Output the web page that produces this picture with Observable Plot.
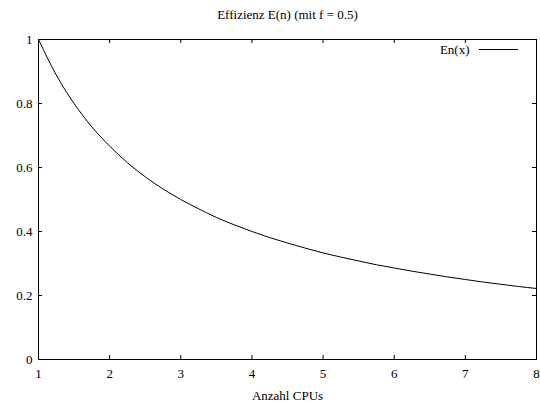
<!DOCTYPE html>
<html><head><meta charset="utf-8">
<script src="https://cdn.jsdelivr.net/npm/d3@7"></script>
<script src="https://cdn.jsdelivr.net/npm/@observablehq/plot@0.6"></script>
<style>body{margin:0;background:#fff} svg, svg text{font-family:"Liberation Serif","Times New Roman",serif !important}</style>
</head><body><div id="chart"></div>
<script>
const title = "Effizienz E(n) (mit f = 0.5)";
const xLabel = "Anzahl CPUs";
const legendLabel = "En(x)";
const xValues = [1,1.25,1.5,1.75,2,2.25,2.5,2.75,3,3.25,3.5,3.75,4,4.25,4.5,4.75,5,5.25,5.5,5.75,6,6.25,6.5,6.75,7,7.25,7.5,7.75,8];
const yValues = [1.000,0.889,0.800,0.727,0.667,0.615,0.571,0.533,0.500,0.471,0.444,0.421,0.400,0.381,0.364,0.348,0.333,0.320,0.308,0.296,0.286,0.276,0.267,0.258,0.250,0.242,0.235,0.228,0.222];
const xTicks = [1,2,3,4,5,6,7,8];
const yTicks = [0,0.2,0.4,0.6,0.8,1];

const data = xValues.map((x,i)=>({x, y:yValues[i]}));
const font = "'Liberation Serif', 'Times New Roman', serif";

const chart = Plot.plot({
  width: 540, height: 407,
  marginLeft: 38, marginRight: 4, marginTop: 39, marginBottom: 48,
  style: {fontFamily: font, fontSize: "13px", background: "#fff", color: "#000"},
  x: {domain: [1,8]},
  y: {domain: [0,1]},
  marks: [
    Plot.axisX(xTicks, {tickSize: 0, tickPadding: 9, fontSize: 13, fontFamily: font, label: null}),
    Plot.axisY(yTicks, {tickSize: 0, tickPadding: 6, fontSize: 13, fontFamily: font, label: null, tickFormat: d => String(d)}),
    Plot.ruleX(xTicks, {x: d=>d, insetTop: 316, stroke: "#000"}),
    Plot.ruleX(xTicks, {x: d=>d, insetBottom: 316, stroke: "#000"}),
    Plot.ruleY(yTicks, {y: d=>d, insetRight: 494, stroke: "#000"}),
    Plot.ruleY(yTicks, {y: d=>d, insetLeft: 494, stroke: "#000"}),
    Plot.frame({stroke: "#000", strokeWidth: 1}),
    Plot.line(data, {x: "x", y: "y", stroke: "#000", strokeWidth: 1, curve: "monotone-x"}),
    Plot.text([title], {frameAnchor: "top", dy: -25, lineAnchor: "middle", fontSize: 13, fontFamily: font}),
    Plot.text([xLabel], {frameAnchor: "bottom", dy: 36, lineAnchor: "middle", fontSize: 13, fontFamily: font}),
    Plot.text([legendLabel], {frameAnchor: "top-right", dx: -67, dy: 10, lineAnchor: "middle", textAnchor: "end", fontSize: 13, fontFamily: font}),
    Plot.ruleY([1], {dy: 10, insetLeft: 441, insetRight: 18, stroke: "#000"})
  ]
});
document.getElementById("chart").appendChild(chart);
</script></body></html>
